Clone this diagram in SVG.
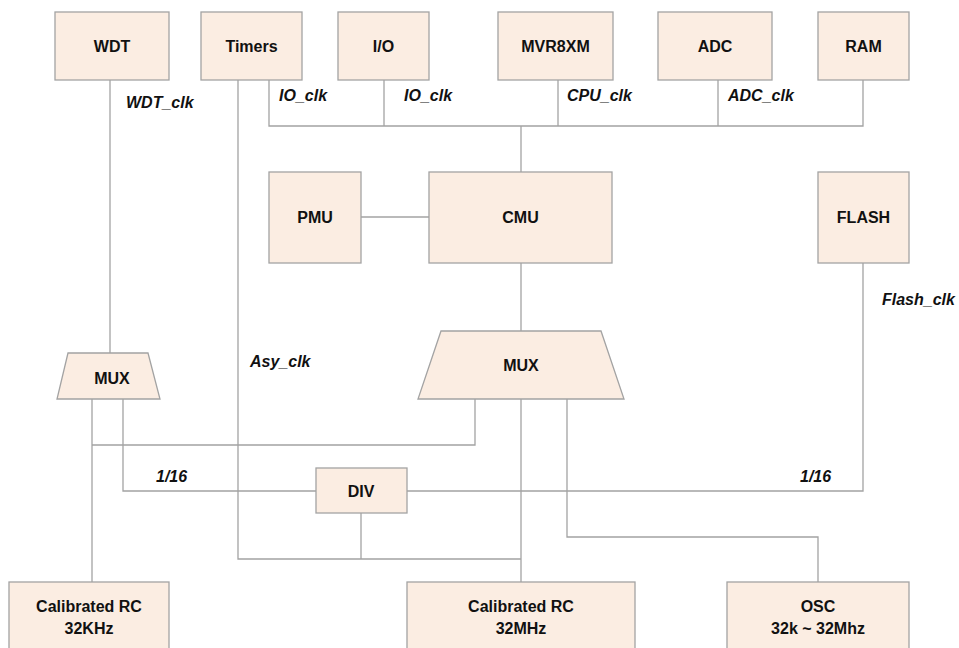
<svg xmlns="http://www.w3.org/2000/svg" width="959" height="648" viewBox="0 0 959 648">
<style>
.box{fill:#FBEDE2;stroke:#A3A3A3;stroke-width:1.3}
.w{fill:none;stroke:#A3A3A3;stroke-width:1.3}
.t{font-family:"Liberation Sans",Arial,sans-serif;font-weight:bold;font-size:16px;fill:#111;text-anchor:middle}
.l{font-family:"Liberation Sans",Arial,sans-serif;font-weight:bold;font-style:italic;font-size:16px;fill:#111}
</style>
<rect width="959" height="648" fill="#fff"/>
<g id="connectors">
<path class="w" d="M110 80V353"/>
<path class="w" d="M238 80V559H521"/>
<path class="w" d="M269 80V126H863V80"/>
<path class="w" d="M384 80V126"/>
<path class="w" d="M558 80V126"/>
<path class="w" d="M718 80V126"/>
<path class="w" d="M521 126V172"/>
<path class="w" d="M361 217H429"/>
<path class="w" d="M521 263V331"/>
<path class="w" d="M863 263V491H407"/>
<path class="w" d="M475 399V445H92"/>
<path class="w" d="M92 399V582"/>
<path class="w" d="M123 399V491H316"/>
<path class="w" d="M361 513V559"/>
<path class="w" d="M521 399V582"/>
<path class="w" d="M567 399V537H818V582"/>
</g>
<g id="wdt"><rect class="box" x="55" y="12" width="114" height="68"/><text class="t" x="112" y="52">WDT</text></g>
<g id="timers"><rect class="box" x="201" y="12" width="101" height="68"/><text class="t" x="251.5" y="52">Timers</text></g>
<g id="io"><rect class="box" x="338" y="12" width="91" height="68"/><text class="t" x="383.5" y="52">I/O</text></g>
<g id="mvr8xm"><rect class="box" x="498" y="12" width="115" height="68"/><text class="t" x="555.5" y="52">MVR8XM</text></g>
<g id="adc"><rect class="box" x="658" y="12" width="114" height="68"/><text class="t" x="715" y="52">ADC</text></g>
<g id="ram"><rect class="box" x="818" y="12" width="91" height="68"/><text class="t" x="863.5" y="52">RAM</text></g>
<g id="pmu"><rect class="box" x="269" y="172" width="92" height="91"/><text class="t" x="315" y="223">PMU</text></g>
<g id="cmu"><rect class="box" x="429" y="172" width="183" height="91"/><text class="t" x="520.5" y="223">CMU</text></g>
<g id="flash"><rect class="box" x="818" y="172" width="91" height="91"/><text class="t" x="863.5" y="223">FLASH</text></g>
<g id="mux-small"><polygon class="box" points="68,353 148,353 160,399 57,399"/><text class="t" x="112" y="384">MUX</text></g>
<g id="mux-big"><polygon class="box" points="441,331 601,331 624,399 418,399"/><text class="t" x="521" y="371">MUX</text></g>
<g id="div"><rect class="box" x="316" y="468" width="91" height="45"/><text class="t" x="361" y="497">DIV</text></g>
<g id="rc32k"><rect class="box" x="9" y="582" width="160" height="80"/><text class="t" x="89" y="612">Calibrated RC</text><text class="t" x="89" y="634">32KHz</text></g>
<g id="rc32m"><rect class="box" x="407" y="582" width="228" height="80"/><text class="t" x="521" y="612">Calibrated RC</text><text class="t" x="521" y="634">32MHz</text></g>
<g id="osc"><rect class="box" x="727" y="582" width="182" height="80"/><text class="t" x="818" y="612">OSC</text><text class="t" x="818" y="634">32k ~ 32Mhz</text></g>
<g id="labels">
<text class="l" x="126" y="108">WDT_clk</text>
<text class="l" x="279" y="101">IO_clk</text>
<text class="l" x="404" y="101">IO_clk</text>
<text class="l" x="567" y="101">CPU_clk</text>
<text class="l" x="728" y="101">ADC_clk</text>
<text class="l" x="882" y="305">Flash_clk</text>
<text class="l" x="250" y="367">Asy_clk</text>
<text class="l" x="156" y="482">1/16</text>
<text class="l" x="800" y="482">1/16</text>
</g>
</svg>
